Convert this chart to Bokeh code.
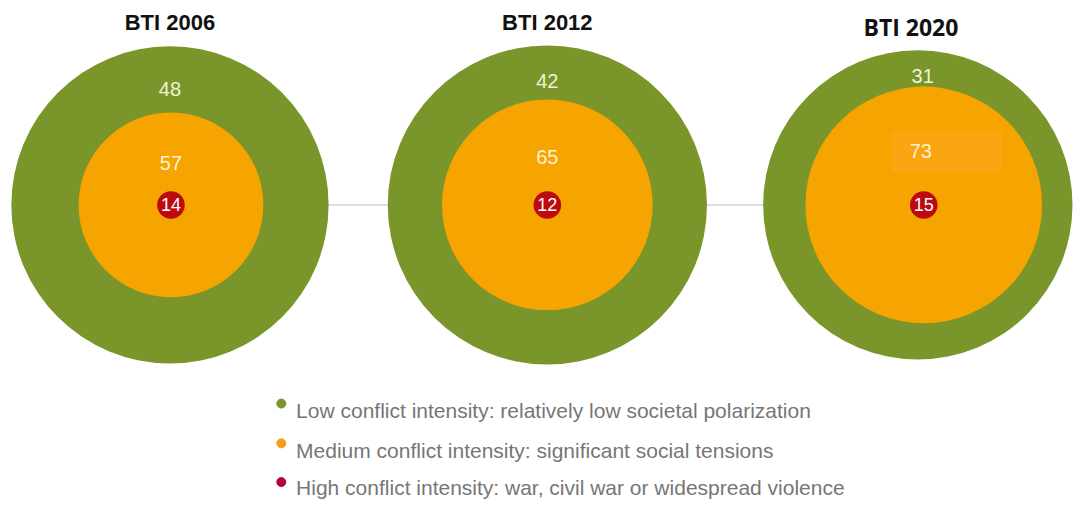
from bokeh.plotting import figure
from bokeh.models import Range1d, ColumnDataSource
from bokeh.core.properties import value
from bokeh.embed import file_html
from bokeh.resources import INLINE

# ---- data ----
editions = ["BTI 2006", "BTI 2012", "BTI 2020"]
low = [48, 42, 31]
medium = [57, 65, 73]
high = [14, 12, 15]
legend_labels = [
    "Low conflict intensity: relatively low societal polarization",
    "Medium conflict intensity: significant social tensions",
    "High conflict intensity: war, civil war or widespread violence",
]

# ---- styles / layout ----
GREEN = "#7A962B"
ORANGE = "#F6A400"
RED = "#BD0A10"
FONT = value("Liberation Sans")

centers_x = [172, 555, 931]
mid_dx = [1, 0, 6]
center_y = 211
outer_r = [161, 162, 157]
mid_scale = 1.645
red_r = 14
title_y = [23, 23, 27]
title_x = [172, 555, 924]

W, H = 1073, 499
p = figure(width=W, height=H, output_backend="svg", toolbar_location=None,
           x_range=Range1d(0, 1089), y_range=Range1d(515, 0),
           min_border=0)
p.axis.visible = False
p.grid.visible = False
p.outline_line_color = None
p.background_fill_color = "white"
p.border_fill_color = "white"

# connecting line
p.line([centers_x[0], centers_x[-1]], [center_y, center_y], line_color="#dedede", line_width=2)

mid_r = [m * mid_scale for m in medium]
mid_x = [cx + d for cx, d in zip(centers_x, mid_dx)]

src = ColumnDataSource(dict(
    x=centers_x, mx=mid_x, y=[center_y] * 3, ro=outer_r, rm=mid_r, rr=[red_r] * 3,
    low=[str(v) for v in low], med=[str(v) for v in medium], high=[str(v) for v in high],
    ly=[center_y - (m + (o - m) * 0.42) + 2 for m, o in zip(mid_r, outer_r)],
    my=[center_y - m * 0.46 for m in mid_r],
    lx=[cx + d for cx, d in zip(centers_x, [0, 0, 5])],
    mlx=[cx + d for cx, d in zip(centers_x, [1, 0, 3])],
))

p.circle(x="x", y="y", radius="ro", source=src, fill_color=GREEN, line_color=None)
p.circle(x="mx", y="y", radius="rm", source=src, fill_color=ORANGE, line_color=None)
# faint highlight box behind 2020 medium label (as in the source image)
p.quad(left=[mid_x[2] - 32], right=[mid_x[2] + 80], top=[135], bottom=[177],
       fill_color="#F9A612", line_color=None)
p.circle(x="mx", y="y", radius="rr", source=src, fill_color=RED, line_color=None)

p.text(x="lx", y="ly", text="low", source=src, text_color="#EEF3D8",
       text_font=FONT, text_font_size="20px", text_align="center", text_baseline="middle")
p.text(x="mlx", y="my", text="med", source=src, text_color="#FFF2D2",
       text_font=FONT, text_font_size="20px", text_align="center", text_baseline="middle")
p.text(x="mx", y="y", text="high", source=src, text_color="white",
       text_font=FONT, text_font_size="18px", text_align="center", text_baseline="middle")

# titles
p.text(x=title_x[:2], y=title_y[:2], text=editions[:2], text_color="#111111",
       text_font=FONT, text_font_style="bold", text_font_size="22px",
       text_align="center", text_baseline="middle")
p.text(x=title_x[2:], y=title_y[2:], text=editions[2:], text_color="#111111",
       text_font=value("Open Sans"), text_font_style="bold", text_font_size="23px",
       text_align="center", text_baseline="middle")

# legend
leg_dot_y = [416, 457, 497]
leg_txt_y = [423, 464, 503]
p.scatter(x=[285] * 3, y=leg_dot_y, size=9, color=[GREEN, "#F59C1A", "#B0063A"])
p.text(x=[300] * 3, y=leg_txt_y, text=legend_labels, text_color="#767676",
       text_font=FONT, text_font_size="21px", text_align="left", text_baseline="middle")

open("out.html", "w").write(file_html(p, INLINE))
